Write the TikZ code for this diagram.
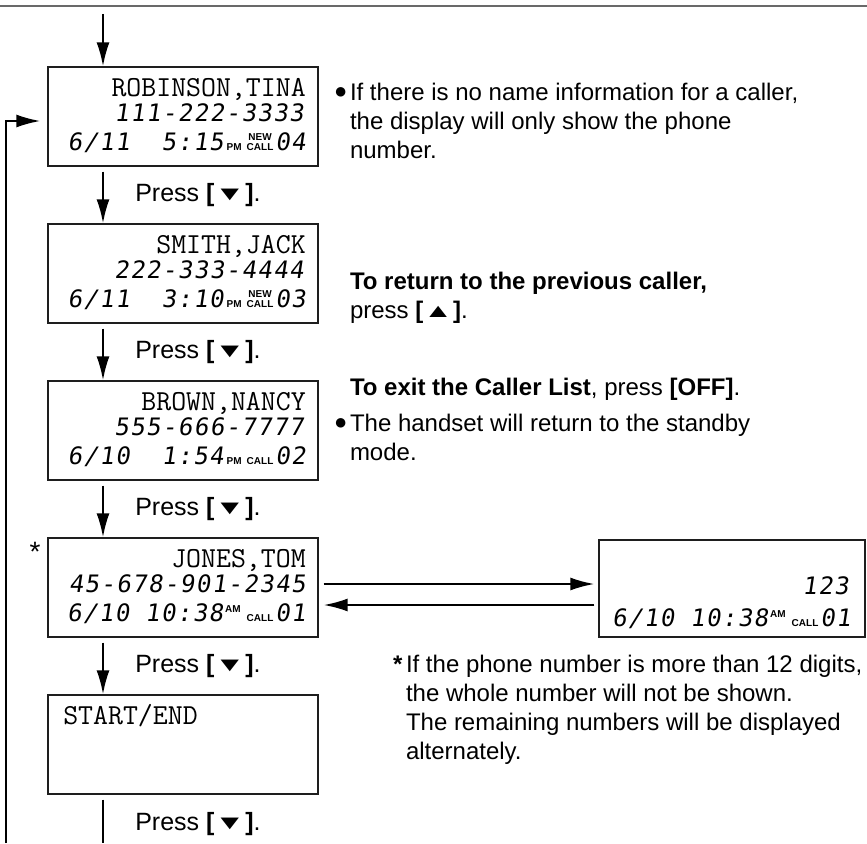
\documentclass[tikz,border=0pt]{standalone}
\usepackage{fontspec}
\setmainfont{Liberation Sans}
\newfontfamily\lcdfont{DejaVu Sans Mono}[FakeSlant=0.15, LetterSpace=6]
\usetikzlibrary{positioning, calc, arrows.meta}
\definecolor{grey538}{RGB}{105,105,105}
\definecolor{ink538}{RGB}{30,30,30}

\newcommand{\lcdtag}[1]{{\normalfont\fontsize{10}{10}\selectfont\bfseries #1}}
\newcommand{\newcall}{\lcdtag{\shortstack{NEW\\CALL}}}
\newcommand{\amtag}{\raisebox{9pt}{\lcdtag{AM}}}
\newcommand{\keyglyph}[1]{\textbf{[}\raisebox{1pt}{\scalebox{1.25}[0.8]{#1}}\textbf{]}}
\newcommand{\dotmark}{{\fontsize{22}{22}\selectfont ●}}

\begin{document}
\begin{tikzpicture}[
          x = 1pt, y = -1pt, line width = 2pt,
          >={Latex[length=24pt, width=13pt]},
          font = \fontsize{24}{28}\selectfont
        ]
          \tikzstyle {lcd} = [draw = ink538, line width = 1.4pt, minimum width = 270pt, minimum height = 99pt, inner sep = 0]
          \tikzstyle {lcdname} = [font = \fontsize{29}{29}\ttfamily, anchor = base east, inner sep = 0]
          \tikzstyle {lcddigits} = [font = \fontsize{24}{24}\lcdfont, anchor = base east, inner sep = 0]
          \tikzstyle {press} = [anchor = west, inner sep = 0, font = \fontsize{25}{28}\selectfont]
          \tikzstyle {note} = [anchor = base west, inner sep = 0]
          \useasboundingbox (0,0) rectangle (867,843);
          \draw [grey538] (0,6) -- (867,6);
          % place displays
          \foreach \i/\y in {1/116.5, 2/273.5, 3/430.5, 4/587.5, 5/744.5}
            { \path node (d\i) [lcd] at (183,\y) {}; }
          \path node (alt) [lcd, minimum width = 266pt, minimum height = 97pt] at (732,588.5) {};
          % display texts
          \path node (n1) [lcdname] at ($(d1.north east)+(-12,30)$) {ROBINSON,TINA};
          \path node (t1) [lcddigits] at ($(d1.north east)+(-14,55)$) {111-222-3333};
          \path node (s1) [lcddigits] at ($(d1.north east)+(-12,84)$) {6/11~~5:15\hspace{3pt}\lcdtag{PM}\hspace{5pt}\newcall\hspace{2pt}04};
          \path node (n2) [lcdname] at ($(d2.north east)+(-12,30)$) {SMITH,JACK};
          \path node (t2) [lcddigits] at ($(d2.north east)+(-14,55)$) {222-333-4444};
          \path node (s2) [lcddigits] at ($(d2.north east)+(-12,84)$) {6/11~~3:10\hspace{3pt}\lcdtag{PM}\hspace{5pt}\newcall\hspace{2pt}03};
          \path node (n3) [lcdname] at ($(d3.north east)+(-12,30)$) {BROWN,NANCY};
          \path node (t3) [lcddigits] at ($(d3.north east)+(-14,55)$) {555-666-7777};
          \path node (s3) [lcddigits] at ($(d3.north east)+(-12,84)$) {6/10~~1:54\hspace{3pt}\lcdtag{PM}\hspace{5pt}\lcdtag{CALL}\hspace{2pt}02};
          \path node (n4) [lcdname] at ($(d4.north east)+(-12,30)$) {JONES,TOM};
          \path node (t4) [lcddigits] at ($(d4.north east)+(-12,55)$) {45-678-901-2345};
          \path node (s4) [lcddigits] at ($(d4.north east)+(-12,84)$) {6/10~10:38\hspace{2pt}\amtag\hspace{6pt}\lcdtag{CALL}\hspace{2pt}01};
          \path node (n5) [lcdname, anchor = base west] at ($(d5.north west)+(15,30)$) {START/END};
          \path node (t6) [lcddigits] at ($(alt.north east)+(-16,55)$) {123};
          \path node (s6) [lcddigits] at ($(alt.north east)+(-14,87)$) {6/10~10:38\hspace{2pt}\amtag\hspace{6pt}\lcdtag{CALL}\hspace{2pt}01};
          \path node (star) [font = \fontsize{28}{28}\selectfont] at (35,552) {*};
          % place presses
          \foreach \i/\j in {1/2, 2/3, 3/4, 4/5}
            { \path node (p\i) [press] at ($(d\i.south west)!.5!(d\j.north west)+(87,0)$) {Press \keyglyph{▼}.}; }
          \path node (p5) [press] at ($(d5.south west)+(87,29)$) {Press \keyglyph{▼}.};
          % place notes
          \path node (i0) [note] at (333,98) {\dotmark};
          \path node (i1) [note] at (349,100) {If there is no name information for a caller,};
          \path node (i2) [note] at (349,129) {the display will only show the phone};
          \path node (i3) [note] at (349,158) {number.};
          \path node (r1) [note] at (349,289) {\textbf{To return to the previous caller,}};
          \path node (r2) [note] at (349,318) {press \keyglyph{▲}.};
          \path node (x1) [note] at (349,395) {\textbf{To exit the Caller List}, press \textbf{[OFF]}.};
          \path node (x0) [note] at (333,429) {\dotmark};
          \path node (x2) [note] at (349,431) {The handset will return to the standby};
          \path node (x3) [note] at (349,460) {mode.};
          \path node (f0) [note] at (392,672) {\textbf{*}};
          \path node (f1) [note] at (405,672) {If the phone number is more than 12 digits,};
          \path node (f2) [note] at (405,701) {the whole number will not be shown.};
          \path node (f3) [note] at (405,730) {The remaining numbers will be displayed};
          \path node (f4) [note] at (405,759) {alternately.};
          % place edges
          \coordinate (top) at (103,14);
          \coordinate (bottom) at (103,843);
          \coordinate (loop) at (6,843);
          \draw [->] (top) -- (top |- d1.north);
          \foreach \i/\j in {1/2, 2/3, 3/4, 4/5}
            { \draw [->] ($(top |- d\i.south)+(0,5)$) -- (top |- d\j.north); }
          \draw ($(top |- d5.south)+(0,5)$) -- (bottom);
          \draw [->] (loop) |- ($(d1.west)+(-7,4.5)$);
          \draw [->] ($(d4.east)+(5,-3.5)$) -- ($(alt.west)+(-4,-4.5)$);
          \draw [->] ($(alt.west)+(-4,16.5)$) -- ($(d4.east)+(5,17.5)$);
        \end{tikzpicture}
\end{document}
